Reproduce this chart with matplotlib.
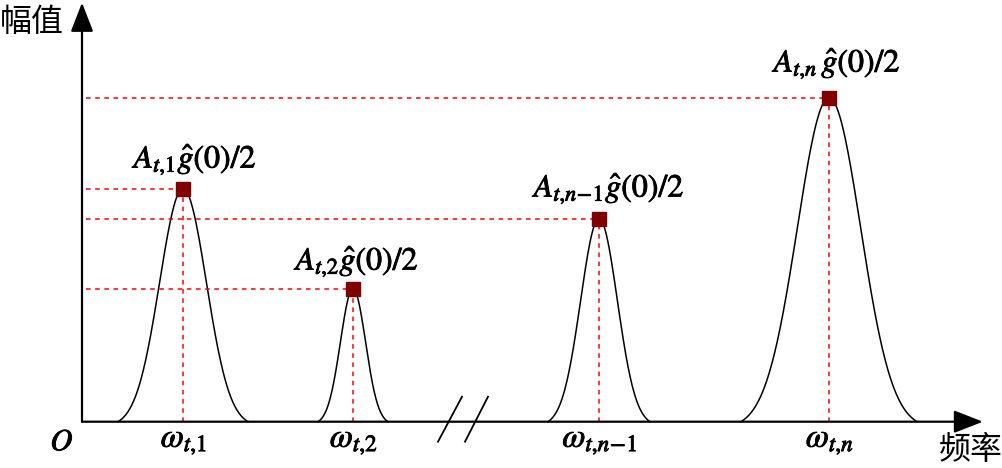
import numpy as np
import matplotlib
matplotlib.use("Agg")
import matplotlib.pyplot as plt
import matplotlib.patheffects as pe

plt.rcParams['mathtext.fontset'] = 'stix'
plt.rcParams['font.family'] = ['Noto Sans CJK SC', 'DejaVu Sans']

# peak data (x = frequency position, y = amplitude), pixel-like units
centers = [101, 271, 517, 747]
heights = [233, 133, 203, 324]
halfwidths = [65, 35, 51, 88]
peak_labels = [r'$A_{t{,}1}\hat{g}(0)/2$', r'$A_{t{,}2}\hat{g}(0)/2$',
               r'$A_{t{,}n\!-\!1}\hat{g}(0)/2$', r'$A_{t{,}n}\,\hat{g}(0)/2$']
freq_labels = [r'$\omega_{t{,}1}$', r'$\omega_{t{,}2}$',
               r'$\omega_{t{,}n\!-\!1}$', r'$\omega_{t{,}n}$']

# label placement relative to the marker
label_dx = [13, 5, 11, 9]
label_dy = [21, 19, 22, 26]

bold = [pe.withStroke(linewidth=0.6, foreground='k')]


def peak(u, hw, h):
    s = 0.36
    e = np.exp(-1 / (2 * s ** 2))
    g = (np.exp(-(u / hw) ** 2 / (2 * s ** 2)) - e) / (1 - e)
    return h * g


fig = plt.figure(figsize=(10.03, 4.68), dpi=100)
ax = fig.add_axes([0, 0, 1, 1])
ax.set_xlim(-82, 921)
ax.set_ylim(-46.3, 421.7)
ax.axis('off')

# axes with arrows
ax.annotate('', xy=(901, 0), xytext=(0, 0),
            arrowprops=dict(arrowstyle='-|>,head_length=0.9,head_width=0.35',
                            mutation_scale=20, color='k', lw=1.6, shrinkA=0, shrinkB=0))
ax.annotate('', xy=(0, 419), xytext=(0, 0),
            arrowprops=dict(arrowstyle='-|>,head_length=0.9,head_width=0.35',
                            mutation_scale=20, color='k', lw=1.6, shrinkA=0, shrinkB=0))

# break marks
ax.plot([356, 380], [-20, 25], color='k', lw=1.3)
ax.plot([383, 406], [-20, 25], color='k', lw=1.3)

for i, (c, h, hw) in enumerate(zip(centers, heights, halfwidths)):
    u = np.linspace(-hw, hw, 200)
    ax.plot(c + u, peak(u, hw, h), color='k', lw=1.1)
    ax.plot([4, c], [h, h], color='red', lw=1.1, dashes=(3, 3))
    ax.plot([c, c], [0, h], color='red', lw=1.1, dashes=(3, 3))
    ax.plot(c, h, marker='s', ms=10.5, color='#800000', mec='#800000', zorder=5)
    ax.text(c + label_dx[i], h + label_dy[i], peak_labels[i],
            ha='center', va='baseline', fontsize=23, path_effects=bold)
    ax.text(c + 1, -25, freq_labels[i], ha='center', va='baseline', fontsize=24,
            path_effects=bold)

ax.text(-20, -20, r'$O$', ha='center', va='center', fontsize=22, path_effects=bold)
ax.text(-82, 400, '幅值', ha='left', va='center', fontsize=23)
ax.text(921, -28, '频率', ha='right', va='center', fontsize=23)

fig.savefig('out.png', dpi=100)
